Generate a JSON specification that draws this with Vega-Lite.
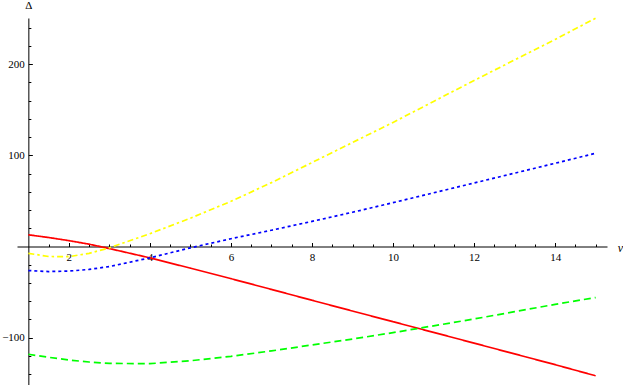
{
  "$schema": "https://vega.github.io/schema/vega-lite/v6.json",
  "width": 590,
  "height": 367,
  "autosize": "none",
  "padding": {"left": 17, "top": 18, "right": 16, "bottom": 0},
  "background": "white",
  "config": {"view": {"stroke": null}, "font": "Times New Roman, Liberation Serif, DejaVu Serif, serif", "axis": {"grid": false}},
  "datasets": {
    "curves": [
      {"v": 1, "delta": 12.8, "s": "red"}, {"v": 1.5, "delta": 9.8, "s": "red"}, {"v": 2, "delta": 6.4, "s": "red"}, {"v": 2.5, "delta": 2.5, "s": "red"}, {"v": 3, "delta": -2.3, "s": "red"}, {"v": 4, "delta": -12.5, "s": "red"}, {"v": 5, "delta": -23.8, "s": "red"}, {"v": 6, "delta": -35.3, "s": "red"}, {"v": 7, "delta": -47.1, "s": "red"}, {"v": 8, "delta": -59, "s": "red"}, {"v": 9, "delta": -70.8, "s": "red"}, {"v": 10, "delta": -82.5, "s": "red"}, {"v": 11, "delta": -94.2, "s": "red"}, {"v": 12, "delta": -106, "s": "red"}, {"v": 13, "delta": -117.8, "s": "red"}, {"v": 14, "delta": -129.6, "s": "red"}, {"v": 15, "delta": -141.8, "s": "red"},
      {"v": 1, "delta": -7.5, "s": "yellow"}, {"v": 1.5, "delta": -11, "s": "yellow"}, {"v": 2, "delta": -11.2, "s": "yellow"}, {"v": 2.5, "delta": -7.5, "s": "yellow"}, {"v": 3, "delta": -1.5, "s": "yellow"}, {"v": 4, "delta": 14, "s": "yellow"}, {"v": 5, "delta": 31, "s": "yellow"}, {"v": 6, "delta": 49.5, "s": "yellow"}, {"v": 7, "delta": 70, "s": "yellow"}, {"v": 8, "delta": 92, "s": "yellow"}, {"v": 9, "delta": 114, "s": "yellow"}, {"v": 10, "delta": 136, "s": "yellow"}, {"v": 11, "delta": 159, "s": "yellow"}, {"v": 12, "delta": 182, "s": "yellow"}, {"v": 13, "delta": 204.5, "s": "yellow"}, {"v": 14, "delta": 227, "s": "yellow"}, {"v": 15, "delta": 250.3, "s": "yellow"},
      {"v": 1, "delta": -26.4, "s": "blue"}, {"v": 1.5, "delta": -27.5, "s": "blue"}, {"v": 2, "delta": -27, "s": "blue"}, {"v": 2.5, "delta": -25.2, "s": "blue"}, {"v": 3, "delta": -22, "s": "blue"}, {"v": 4, "delta": -12.5, "s": "blue"}, {"v": 5, "delta": -1.5, "s": "blue"}, {"v": 6, "delta": 8.5, "s": "blue"}, {"v": 7, "delta": 17.8, "s": "blue"}, {"v": 8, "delta": 27.5, "s": "blue"}, {"v": 9, "delta": 37.5, "s": "blue"}, {"v": 10, "delta": 48, "s": "blue"}, {"v": 11, "delta": 58.8, "s": "blue"}, {"v": 12, "delta": 69.6, "s": "blue"}, {"v": 13, "delta": 80.4, "s": "blue"}, {"v": 14, "delta": 91.2, "s": "blue"}, {"v": 15, "delta": 102.2, "s": "blue"},
      {"v": 1, "delta": -118.2, "s": "green"}, {"v": 1.5, "delta": -121.5, "s": "green"}, {"v": 2, "delta": -124.5, "s": "green"}, {"v": 2.5, "delta": -126.7, "s": "green"}, {"v": 3, "delta": -128.2, "s": "green"}, {"v": 4, "delta": -128.5, "s": "green"}, {"v": 5, "delta": -125.3, "s": "green"}, {"v": 6, "delta": -120.5, "s": "green"}, {"v": 7, "delta": -114.5, "s": "green"}, {"v": 8, "delta": -108, "s": "green"}, {"v": 9, "delta": -101.5, "s": "green"}, {"v": 10, "delta": -94.5, "s": "green"}, {"v": 11, "delta": -87, "s": "green"}, {"v": 12, "delta": -79.5, "s": "green"}, {"v": 13, "delta": -71.5, "s": "green"}, {"v": 14, "delta": -63.5, "s": "green"}, {"v": 15, "delta": -56, "s": "green"}
    ]
  },
  "data": {"name": "curves"},
  "layer": [
    {
      "mark": {"type": "line", "opacity": 0},
      "encoding": {
        "x": {"field": "v", "type": "quantitative", "scale": {"domain": [0.72, 15.28], "nice": false, "zero": false},
          "axis": {"orient": "bottom", "offset": -138.5, "values": [1.5, 2.5, 3, 3.5, 4.5, 5, 5.5, 6.5, 7, 7.5, 8.5, 9, 9.5, 10.5, 11, 11.5, 12.5, 13, 13.5, 14.5, 15],
            "labels": false, "domain": false, "ticks": true, "tickSize": -2.5, "tickColor": "black", "tickWidth": 1, "title": null}},
        "y": {"field": "delta", "type": "quantitative", "scale": {"domain": [-151.9, 250.5], "nice": false, "zero": false},
          "axis": {"orient": "left", "offset": -11.35, "values": [-140, -120, -80, -60, -40, -20, 20, 40, 60, 80, 120, 140, 160, 180, 220, 240],
            "labels": false, "domain": false, "ticks": true, "tickSize": -2.5, "tickColor": "black", "tickWidth": 1, "title": null}},
        "detail": {"field": "s"}
      }
    },
    {
      "mark": {"type": "line", "strokeWidth": 1.7},
      "encoding": {
        "x": {"field": "v", "type": "quantitative", "scale": {"domain": [0.72, 15.28], "nice": false, "zero": false},
          "axis": {"orient": "bottom", "offset": -138.5, "values": [2, 4, 6, 8, 10, 12, 14],
            "domain": true, "domainColor": "black", "domainWidth": 1, "tickSize": -4, "tickColor": "black", "tickWidth": 1,
            "labelFont": "Liberation Serif", "labelFontSize": 11, "labelColor": "black", "labelPadding": 8.5, "labelFlush": false, "labelOverlap": false,
            "title": "ν", "titleFont": "Liberation Serif", "titleFontStyle": "italic", "titleFontWeight": "normal", "titleFontSize": 12, "titleColor": "black",
            "titleX": 603, "titleY": 1, "titleAlign": "center", "titleBaseline": "middle", "titleAngle": 0}},
        "y": {"field": "delta", "type": "quantitative", "scale": {"domain": [-151.9, 250.5], "nice": false, "zero": false},
          "axis": {"orient": "left", "offset": -11.35, "values": [-100, 100, 200],
            "domain": true, "domainColor": "black", "domainWidth": 1, "tickSize": -4, "tickColor": "black", "tickWidth": 1,
            "labelFont": "Liberation Serif", "labelFontSize": 11, "labelColor": "black", "labelPadding": 8, "labelFlush": false, "labelOverlap": false,
            "title": "Δ", "titleFont": "Liberation Serif", "titleFontWeight": "normal", "titleFontSize": 11, "titleColor": "black",
            "titleX": 0, "titleY": -13, "titleAlign": "center", "titleBaseline": "middle", "titleAngle": 0}},
        "color": {"field": "s", "type": "nominal", "legend": null,
          "scale": {"domain": ["green", "blue", "yellow", "red"], "range": ["#00ff00", "#0000ff", "#ffff00", "#ff0000"]}},
        "strokeDash": {"field": "s", "type": "nominal", "legend": null,
          "scale": {"domain": ["green", "blue", "yellow", "red"], "range": [[7, 4], [3, 3], [6, 3, 2.5, 3], [1, 0]]}},
        "order": {"field": "v", "type": "quantitative"}
      }
    }
  ],
  "resolve": {"axis": {"x": "independent", "y": "independent"}}
}
